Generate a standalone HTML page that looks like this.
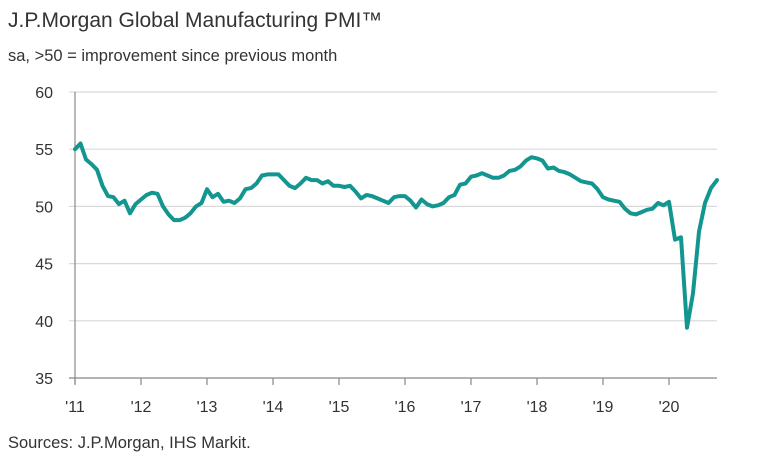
<!DOCTYPE html>
<html><head><meta charset="utf-8"><style>
body{margin:0;background:#fff;width:769px;height:468px;overflow:hidden;font-family:"Liberation Sans",sans-serif}
</style></head><body>
<svg width="769" height="468">
<text x="8" y="27" font-size="21" fill="#333">J.P.Morgan Global Manufacturing PMI™</text>
<text x="8" y="61" font-size="16.5" fill="#333">sa, &gt;50 = improvement since previous month</text>
<text x="8" y="448" font-size="16.5" fill="#333">Sources: J.P.Morgan, IHS Markit.</text>
<g id="grid"></g><g id="axes"></g>
<path id="line" fill="none" stroke="#12968f" stroke-width="4" stroke-linejoin="round" stroke-linecap="round"/>
</svg>
<script>
const yTicks=[35,40,45,50,55,60];
const xLabels=["'11","'12","'13","'14","'15","'16","'17","'18","'19","'20"];
const pmi=[
55.0,55.5,54.1,53.7,53.2,51.8,50.9,50.8,50.2,50.5,49.4,50.2,
50.6,51.0,51.2,51.1,50.0,49.3,48.8,48.8,49.0,49.4,50.0,50.3,
51.5,50.8,51.1,50.4,50.5,50.3,50.7,51.5,51.6,52.0,52.7,52.8,
52.8,52.8,52.3,51.8,51.6,52.0,52.5,52.3,52.3,52.0,52.2,51.8,
51.8,51.7,51.8,51.3,50.7,51.0,50.9,50.7,50.5,50.3,50.8,50.9,
50.9,50.5,49.9,50.6,50.2,50.0,50.1,50.3,50.8,51.0,51.9,52.0,
52.6,52.7,52.9,52.7,52.5,52.5,52.7,53.1,53.2,53.5,54.0,54.3,
54.2,54.0,53.3,53.4,53.1,53.0,52.8,52.5,52.2,52.1,52.0,51.5,
50.8,50.6,50.5,50.4,49.8,49.4,49.3,49.5,49.7,49.8,50.3,50.1,
50.4,47.1,47.3,39.4,42.4,47.8,50.3,51.6,52.3];
const x0=75,yearW=66,yMin=35,yMax=60,yTop=92,yBot=378,plotR=717;
const sx=i=>x0+i*yearW/12+(i>=109?(i-108)*0.5:0);
const sy=v=>yBot-(v-yMin)/(yMax-yMin)*(yBot-yTop);
const NS="http://www.w3.org/2000/svg";
const grid=document.getElementById('grid'),axes=document.getElementById('axes');
yTicks.forEach(t=>{
 const l=document.createElementNS(NS,'line');
 
 
 l.setAttribute('x1',x0-6);l.setAttribute('x2',plotR);l.setAttribute('y1',sy(t));l.setAttribute('y2',sy(t));
 l.setAttribute('stroke',t===yMin?'#888':'#d9d9d9');l.setAttribute('stroke-width',1.2);grid.appendChild(l);
 const tx=document.createElementNS(NS,'text');
 
 
 tx.setAttribute('x',53);tx.setAttribute('y',sy(t)+6);tx.setAttribute('text-anchor','end');
 tx.setAttribute('font-size','16');tx.setAttribute('fill','#333');tx.textContent=t;axes.appendChild(tx);
});
const ya=document.createElementNS(NS,'line');


ya.setAttribute('x1',x0);ya.setAttribute('x2',x0);ya.setAttribute('y1',yTop);ya.setAttribute('y2',yBot+6);
ya.setAttribute('stroke','#888');ya.setAttribute('stroke-width',1.2);axes.appendChild(ya);
xLabels.forEach((lb,i)=>{
 const x=x0+i*yearW;
 const tk=document.createElementNS(NS,'line');
 
 
 tk.setAttribute('x1',x);tk.setAttribute('x2',x);tk.setAttribute('y1',yBot);tk.setAttribute('y2',yBot+7);
 tk.setAttribute('stroke','#888');tk.setAttribute('stroke-width',1.2);axes.appendChild(tk);
 const tx=document.createElementNS(NS,'text');
 
 
 tx.setAttribute('x',x);tx.setAttribute('y',412);tx.setAttribute('text-anchor','middle');
 tx.setAttribute('font-size','16');tx.setAttribute('fill','#333');tx.textContent=lb;axes.appendChild(tx);
});
document.getElementById('line').setAttribute('d',pmi.map((v,i)=>(i?'L':'M')+sx(i).toFixed(1)+','+sy(v).toFixed(1)).join(''));
</script>
</body></html>
